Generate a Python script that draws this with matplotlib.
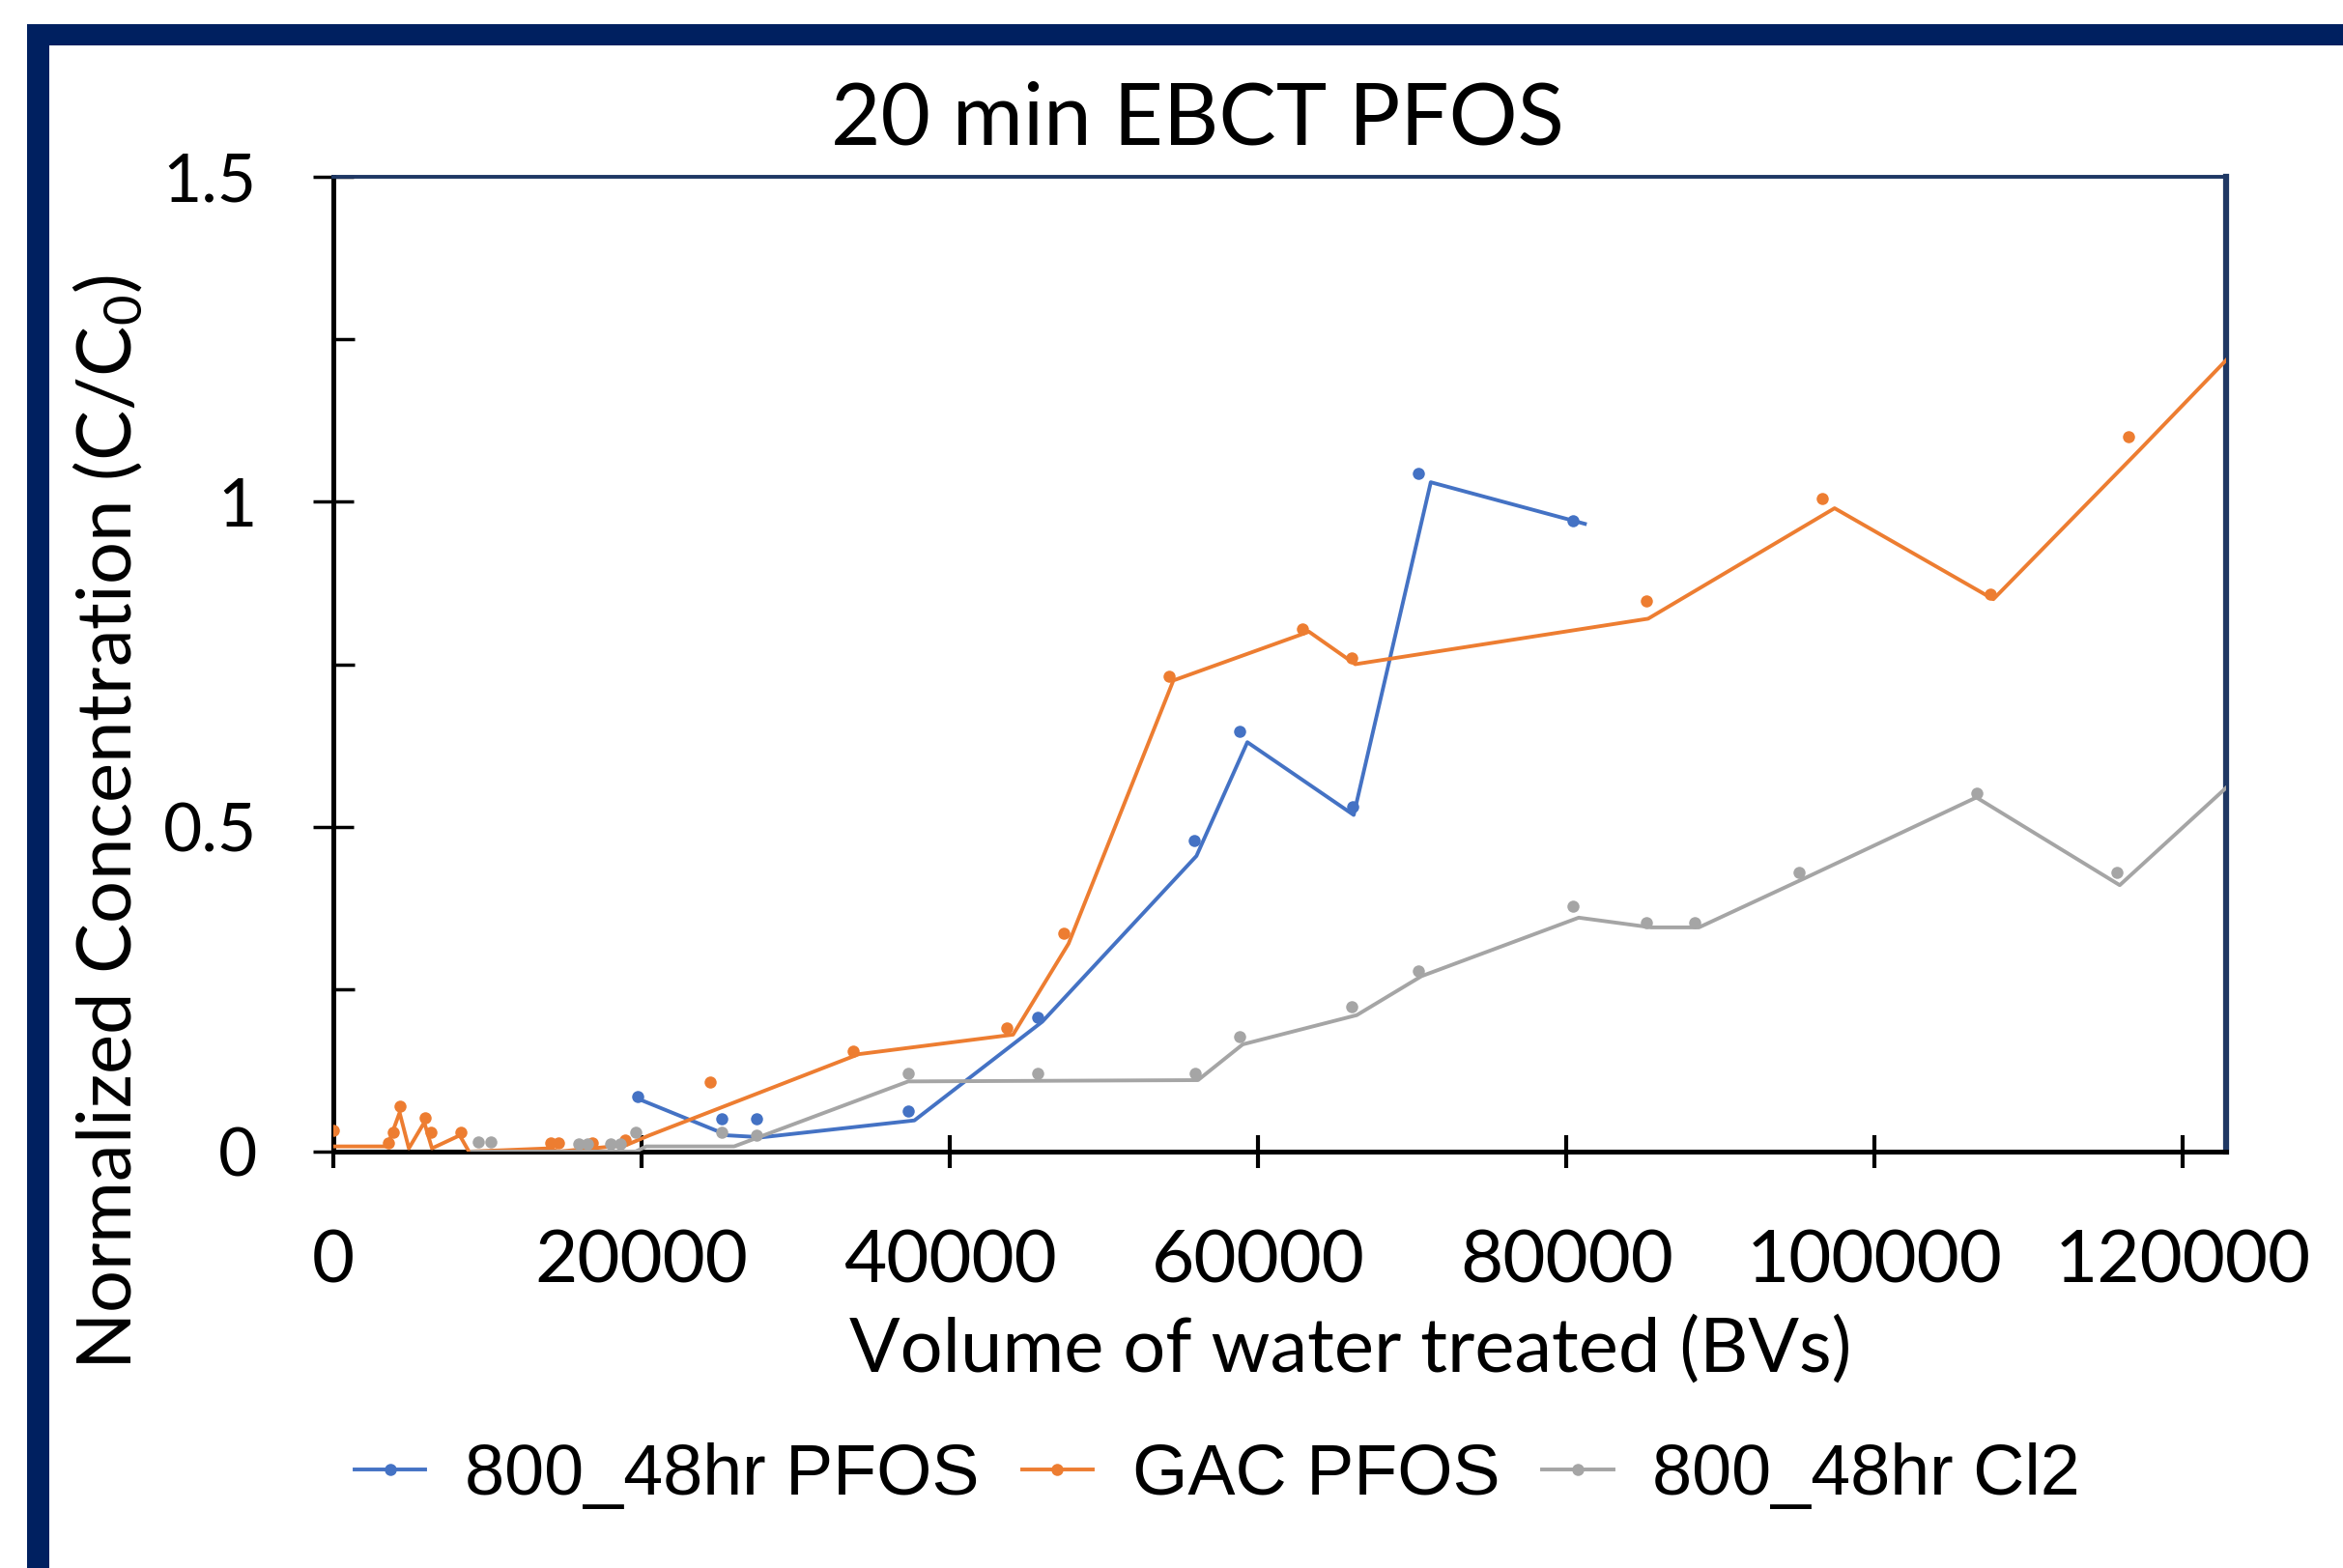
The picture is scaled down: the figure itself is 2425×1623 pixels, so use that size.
import matplotlib
matplotlib.use("Agg")
import matplotlib.pyplot as plt
from matplotlib.patches import Rectangle
from matplotlib.lines import Line2D

plt.rcParams['font.family'] = ['Lato', 'DejaVu Sans']
plt.rcParams['mathtext.fontset'] = 'custom'
plt.rcParams['mathtext.rm'] = 'Lato'
plt.rcParams['mathtext.it'] = 'Lato:italic'

blue_mx = [19750, 25200, 27460, 37300, 45680, 55870, 58780, 66150, 70420, 80400]
blue_my = [0.085, 0.05, 0.05, 0.063, 0.207, 0.478, 0.646, 0.531, 1.044, 0.971]
blue_lx = [19900, 25600, 27800, 37700, 46000, 56000, 59300, 66200, 71200, 81200]
blue_ly = [0.08, 0.025, 0.022, 0.048, 0.20, 0.455, 0.63, 0.518, 1.03, 0.966]

# GAC PFOS (orange)
gac_mx = [0, 3600, 3900, 4300, 5950, 6300, 8300, 14100, 14600, 16800, 18900,
          24450, 33700, 43700, 47400, 54200, 62900, 66100, 85200, 96600, 107500, 116500]
gac_my = [0.033, 0.013, 0.03, 0.07, 0.052, 0.03, 0.03, 0.013, 0.013, 0.013, 0.018,
          0.107, 0.154, 0.19, 0.336, 0.731, 0.805, 0.759, 0.847, 1.005, 0.858, 1.10]
gac_lx = [0, 3500, 4300, 4900, 5900, 6400, 8200, 8800, 14000, 14600, 16800, 19000, 20500,
          34100, 44100, 47700, 54500, 63300, 66300, 85300, 97400, 107700, 117200, 123500]
gac_ly = [0.008, 0.008, 0.06, 0.005, 0.045, 0.005, 0.025, 0.0, 0.005, 0.0, 0.005, 0.01, 0.025,
          0.15, 0.18, 0.32, 0.725, 0.80, 0.75, 0.82, 0.99, 0.85, 1.08, 1.235]

# 800_48hr Cl2 (gray)
cl_mx = [9400, 10200, 15900, 16500, 18000, 18600, 19600, 25200, 27460, 37300, 45700,
         55900, 58800, 66100, 70400, 80400, 85200, 88300, 95100, 106600, 115700]
cl_my = [0.015, 0.015, 0.012, 0.012, 0.012, 0.012, 0.03, 0.03, 0.025, 0.12, 0.12,
         0.12, 0.177, 0.223, 0.278, 0.377, 0.352, 0.352, 0.43, 0.552, 0.43]
cl_lx = [9000, 19600, 20300, 26000, 37300, 56100, 59000, 66400, 70600, 80800,
         85500, 88600, 95400, 106600, 115900, 123500]
cl_ly = [0.0, 0.0, 0.008, 0.008, 0.108, 0.11, 0.165, 0.21, 0.27, 0.36,
         0.345, 0.345, 0.42, 0.545, 0.41, 0.575]

x_ticks = [0, 20000, 40000, 60000, 80000, 100000, 120000]
y_ticks = [0, 0.5, 1, 1.5]
y_minor = [0.25, 0.75, 1.25]
labels = ['800_48hr PFOS', 'GAC PFOS', '800_48hr Cl2']
colors = ['#4472C4', '#ED7D31', '#A5A5A5']

W, H = 2425, 1623
fig = plt.figure(figsize=(W / 100, H / 100), dpi=100)
ax = fig.add_axes([345 / W, 1 - 1192 / H, (2304 - 345) / W, (1192 - 183) / H])

series = [(blue_lx, blue_ly, blue_mx, blue_my),
          (gac_lx, gac_ly, gac_mx, gac_my),
          (cl_lx, cl_ly, cl_mx, cl_my)]
# gray first so it sits underneath
for i in [2, 1, 0]:
    lx, ly, mx, my = series[i]
    ax.plot(lx, ly, color=colors[i], lw=2.8, zorder=3 + i * 0.1)
    ax.plot(mx, my, 'o', color=colors[i], ms=9, mew=0, zorder=3.05 + i * 0.1)

ax.set_xlim(0, 122800)
ax.set_ylim(0, 1.5)
ax.set_xticks(x_ticks)
ax.set_xticklabels([str(v) for v in x_ticks])
ax.set_yticks(y_ticks)
ax.set_yticklabels(['%g' % v for v in y_ticks])
ax.set_yticks(y_minor, minor=True)

ax.tick_params(axis='x', direction='inout', length=25, width=3, labelsize=55, pad=45)
ax.tick_params(axis='y', which='major', direction='inout', length=30, width=2.5, labelsize=50, pad=42)
ax.tick_params(axis='y', which='minor', direction='in', length=16, width=2.5)

for s in ['left', 'bottom']:
    ax.spines[s].set_color('black')
    ax.spines[s].set_linewidth(3.6)
ax.spines['top'].set_color('#1F3864')
ax.spines['top'].set_linewidth(2.8)
ax.spines['right'].set_color('#1F3864')
ax.spines['right'].set_linewidth(4.5)

ax.set_xlabel('Volume of water treated (BVs)', fontsize=56)
ax.xaxis.set_label_coords(0.5375, -0.168)
ax.set_ylabel('Normalized Concentration (C/C$_{\\mathrm{0}}$)', fontsize=56)
ax.yaxis.set_label_coords(-0.10, 0.338)

fig.text(1239 / W, 1 - 124 / H, '20 min EBCT PFOS', fontsize=64, ha='center', va='center')

handles = [Line2D([], [], color=c, lw=2.8, marker='o', ms=9, mew=0) for c in colors]
fig.legend(handles, labels, loc='center', bbox_to_anchor=(1260 / W, 1 - 1527 / H), ncol=3,
           frameon=False, prop={'family': 'Liberation Sans', 'size': 53},
           handlelength=1.0, handletextpad=0.55, columnspacing=0.6)

# outer dark blue frame (only top and left edges show in the crop)
navy = '#002060'
fig.add_artist(Rectangle((28 / W, 1 - 47 / H), 1 - 28 / W, 22 / H,
                         transform=fig.transFigure, color=navy, lw=0))
fig.add_artist(Rectangle((28 / W, 0), 23 / W, 1 - 25 / H,
                         transform=fig.transFigure, color=navy, lw=0))

fig.savefig('out.png', dpi=100)
